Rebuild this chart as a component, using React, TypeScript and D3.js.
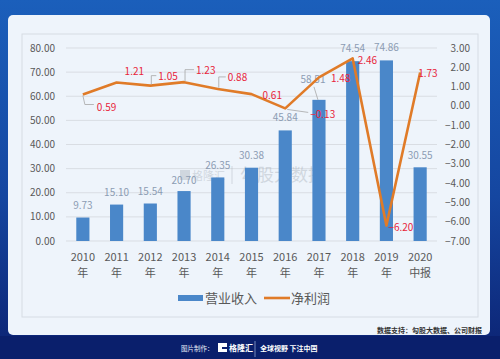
import { useRef, useEffect } from 'react'
import * as d3 from 'd3'

const years = ['2010', '2011', '2012', '2013', '2014', '2015', '2016', '2017', '2018', '2019', '2020']
const yearSub = ['年', '年', '年', '年', '年', '年', '年', '年', '年', '年', '中报']
const revenue = [9.73, 15.1, 15.54, 20.7, 26.35, 30.38, 45.84, 58.51, 74.54, 74.86, 30.55]
const profit = [0.59, 1.21, 1.05, 1.23, 0.88, 0.61, -0.13, 1.48, 2.46, -6.2, 1.73]
const leftTicks = [0, 10, 20, 30, 40, 50, 60, 70, 80]
const rightTicks = [-7, -6, -5, -4, -3, -2, -1, 0, 1, 2, 3]

// label offsets relative to the point (dx, dy baseline), leader flag
const profitLabelPos: [number, number, string][] = [
  [14, 16, 'down'], [8, -8, ''], [8, -6, 'up'], [12, -8.5, 'up'], [10, -8, 'up'],
  [11, 4.5, ''], [25, 10, 'side'], [12, 5, ''], [5, 6, ''], [2, 5, ''], [-2, 4, '']
]
const revLabelPos: [number, number][] = [
  [0, -8.5], [0, -8.5], [0, -8.5], [0, -7.5], [0, -8.5], [0, -8.5],
  [0, -9], [-6, -16.5], [0, -9.5], [0, -9.5], [0, -8.5]
]

const FONT = "'Noto Sans CJK SC', 'Noto Sans', sans-serif"

function App() {
  const ref = useRef<SVGSVGElement>(null)

  useEffect(() => {
    const svg = d3.select(ref.current)
    svg.selectAll('*').remove()

    const defs = svg.append('defs')
    const grad = defs.append('linearGradient').attr('id', 'bg').attr('x1', 0).attr('y1', 0).attr('x2', 0).attr('y2', 1)
    grad.append('stop').attr('offset', '0%').attr('stop-color', '#1b5fbb')
    grad.append('stop').attr('offset', '55%').attr('stop-color', '#1546a0')
    grad.append('stop').attr('offset', '100%').attr('stop-color', '#0c2272')

    svg.append('rect').attr('width', 500).attr('height', 359).attr('fill', 'url(#bg)')
    svg.append('rect').attr('x', 0).attr('y', 336).attr('width', 500).attr('height', 23).attr('fill', '#0a1f6c')

    // card
    svg.append('rect').attr('x', 8).attr('y', 15).attr('width', 482).attr('height', 320)
      .attr('rx', 5).attr('fill', '#eef4fb')
    svg.append('rect').attr('x', 22).attr('y', 34).attr('width', 456).attr('height', 283)
      .attr('fill', 'none').attr('stroke', '#d6dce4').attr('stroke-width', 1)

    const x = d3.scaleBand().domain(years).range([66, 437]).paddingInner(0.61).paddingOuter(0.305)
    const yL = d3.scaleLinear().domain([0, 80]).range([241, 48])
    const yR = d3.scaleLinear().domain([-7, 3]).range([241, 48])
    const cx = (i: number) => (x(years[i]) as number) + x.bandwidth() / 2

    // grid
    svg.append('g').selectAll('line').data(leftTicks).enter().append('line')
      .attr('x1', 66).attr('x2', 437)
      .attr('y1', d => yL(d)).attr('y2', d => yL(d))
      .attr('stroke', '#d9dde3').attr('stroke-width', 1)

    svg.append('g').selectAll('text').data(leftTicks).enter().append('text')
      .attr('x', 55).attr('y', d => yL(d) + 3.5)
      .attr('text-anchor', 'end').style('font', `10px ${FONT}`).attr('fill', '#595959')
      .text(d => d3.format('.2f')(d))

    svg.append('g').selectAll('text').data(rightTicks).enter().append('text')
      .attr('x', 470).attr('y', d => yR(d) + 3.5)
      .attr('text-anchor', 'end').style('font', `10px ${FONT}`).attr('fill', '#595959')
      .text(d => d3.format('.2f')(d))

    // watermark
    const wm = svg.append('g').attr('opacity', 0.35)
    wm.append('rect').attr('x', 180).attr('y', 170).attr('width', 10).attr('height', 10).attr('fill', '#9aa3ad')
    wm.append('text').attr('x', 192).attr('y', 180).style('font', `11px ${FONT}`).attr('fill', '#9aa3ad').text('格隆汇')
    wm.append('line').attr('x1', 232).attr('x2', 232).attr('y1', 166).attr('y2', 184).attr('stroke', '#9aa3ad')
    wm.append('text').attr('x', 240).attr('y', 181).style('font', `17px ${FONT}`).attr('fill', '#9aa3ad').text('勾股大数据')

    // bars
    svg.append('g').selectAll('rect').data(revenue).enter().append('rect')
      .attr('x', (d, i) => x(years[i]) as number)
      .attr('width', x.bandwidth())
      .attr('y', d => yL(d))
      .attr('height', d => yL(0) - yL(d))
      .attr('fill', '#4a87c9')

    // bar labels
    svg.append('g').selectAll('text').data(revenue).enter().append('text')
      .attr('x', (d, i) => cx(i) + revLabelPos[i][0])
      .attr('y', (d, i) => yL(d) + revLabelPos[i][1])
      .attr('text-anchor', 'middle').style('font', `10px ${FONT}`).attr('fill', '#8c9cb3')
      .text(d => d3.format('.2f')(d))
    svg.append('line')
      .attr('x1', cx(7) - 5).attr('y1', yL(revenue[7]) - 13)
      .attr('x2', cx(7) - 1).attr('y2', yL(revenue[7]))
      .attr('stroke', '#a6a6a6').attr('stroke-width', 0.8)

    // line
    const line = d3.line<number>().x((d, i) => cx(i)).y(d => yR(d))
    svg.append('path').datum(profit).attr('d', line)
      .attr('fill', 'none').attr('stroke', '#e07b28').attr('stroke-width', 2.6)
      .attr('stroke-linejoin', 'round')

    // leaders for profit labels
    const lg = svg.append('g').attr('fill', 'none').attr('stroke', '#a6a6a6').attr('stroke-width', 0.8)
    profit.forEach((v, i) => {
      const px = cx(i), py = yR(v)
      const [dx, dy, kind] = profitLabelPos[i]
      if (kind === 'down') {
        lg.append('polyline').attr('points', `${px},${py + 1} ${px + 2},${py + dy - 6} ${px + dx - 3},${py + dy - 6}`)
      } else if (kind === 'up') {
        lg.append('polyline').attr('points', `${px + 1},${py - 1} ${px + 1},${py + dy - 4} ${px + dx - 2},${py + dy - 4}`)
      } else if (kind === 'side') {
        lg.append('polyline').attr('points', `${px + 2},${py + 1} ${px + dx - 2},${py + dy - 6}`)
      }
    })

    svg.append('g').selectAll('text').data(profit).enter().append('text')
      .attr('x', (d, i) => cx(i) + profitLabelPos[i][0])
      .attr('y', (d, i) => yR(d) + profitLabelPos[i][1])
      .style('font', `10px ${FONT}`).attr('fill', '#e8243a')
      .text(d => d3.format('.2f')(d))

    // x labels
    const xl = svg.append('g').style('font', `11px ${FONT}`).attr('fill', '#595959').attr('text-anchor', 'middle')
    years.forEach((y, i) => {
      xl.append('text').attr('x', cx(i)).attr('y', 261).text(y)
      xl.append('text').attr('x', cx(i)).attr('y', 277).text(yearSub[i])
    })

    // legend
    svg.append('rect').attr('x', 178).attr('y', 295).attr('width', 25).attr('height', 6).attr('fill', '#4a87c9')
    svg.append('text').attr('x', 205).attr('y', 303).style('font', `13px ${FONT}`).attr('fill', '#595959').text('营业收入')
    svg.append('line').attr('x1', 264).attr('x2', 290).attr('y1', 298).attr('y2', 298)
      .attr('stroke', '#e07b28').attr('stroke-width', 2.6)
    svg.append('text').attr('x', 291).attr('y', 303).style('font', `13px ${FONT}`).attr('fill', '#595959').text('净利润')

    // source
    svg.append('text').attr('x', 482).attr('y', 333).attr('text-anchor', 'end')
      .style('font', `bold 7px ${FONT}`).attr('fill', '#333').text('数据支持：勾股大数据、公司财报')

    // footer
    svg.append('text').attr('x', 181).attr('y', 351).style('font', `6.5px ${FONT}`).attr('fill', '#e8eef8').text('图片制作：')
    svg.append('rect').attr('x', 218).attr('y', 343).attr('width', 9).attr('height', 9).attr('fill', '#ffffff')
    svg.append('rect').attr('x', 222).attr('y', 347).attr('width', 5).attr('height', 2).attr('fill', '#0a1f6c')
    svg.append('text').attr('x', 229).attr('y', 351).style('font', `bold 8px ${FONT}`).attr('fill', '#ffffff').text('格隆汇')
    svg.append('line').attr('x1', 255).attr('x2', 255).attr('y1', 341).attr('y2', 357).attr('stroke', '#8fa3cf').attr('stroke-width', 0.8)
    svg.append('text').attr('x', 260).attr('y', 351).style('font', `bold 7px ${FONT}`).attr('fill', '#ffffff').text('全球视野 下注中国')
  }, [])

  return (
    <div style={{ position: 'absolute', left: 0, top: 0 }}>
      <svg ref={ref} width={500} height={359} style={{ display: 'block' }}></svg>
    </div>
  )
}

export default App
